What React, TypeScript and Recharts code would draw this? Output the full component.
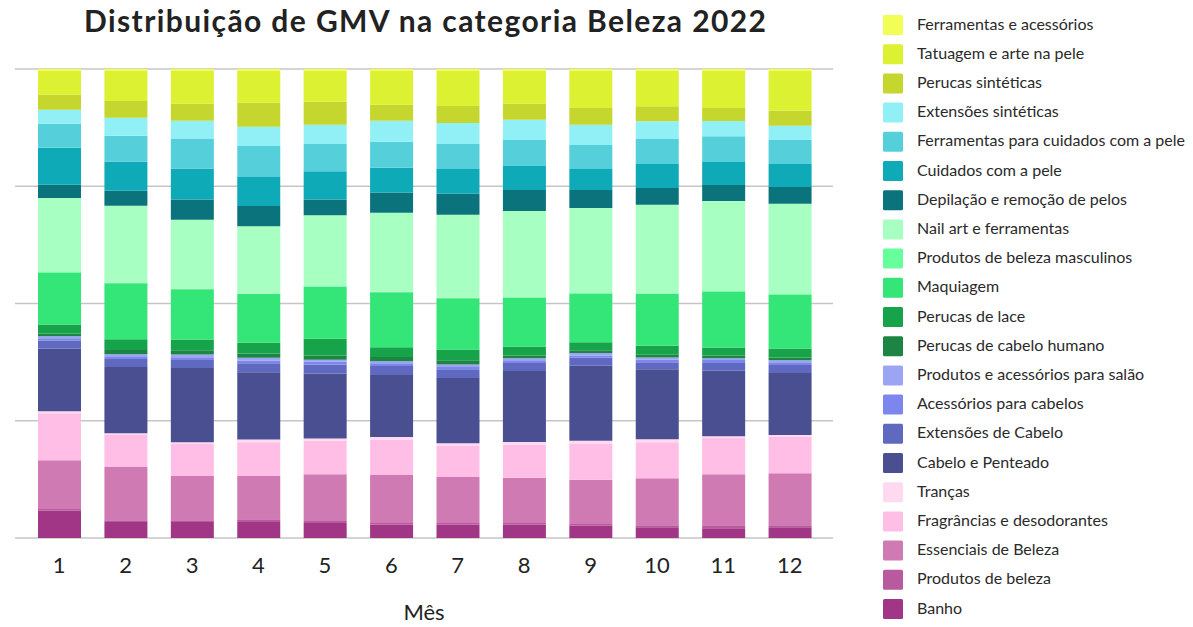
import React from 'react';
import { BarChart, Bar, XAxis, YAxis, CartesianGrid } from 'recharts';

// months on the x axis
const months = ['1', '2', '3', '4', '5', '6', '7', '8', '9', '10', '11', '12'];

// share of GMV per subcategory (%), month 1..12
const banho = [5.8, 3.4, 3.4, 3.4, 3.2, 2.8, 2.8, 2.8, 2.6, 2.3, 2.1, 2.3];
const produtosBeleza = [0.4, 0.4, 0.4, 0.6, 0.4, 0.4, 0.4, 0.4, 0.4, 0.4, 0.6, 0.4];
const essenciais = [10.4, 11.3, 9.4, 9.2, 10.0, 10.2, 9.8, 9.6, 9.4, 10.0, 10.9, 11.1];
const fragrancias = [10.0, 6.8, 6.8, 7.2, 7.2, 7.5, 6.6, 7.0, 7.7, 7.7, 7.7, 7.7];
const trancas = [0.4, 0.4, 0.4, 0.6, 0.4, 0.6, 0.6, 0.6, 0.6, 0.6, 0.4, 0.4];
const cabeloPenteado = [13.4, 14.1, 15.8, 14.3, 13.9, 13.2, 13.9, 15.1, 16.0, 14.9, 13.9, 13.2];
const extensoesCabelo = [1.7, 1.7, 1.7, 1.9, 1.9, 1.9, 1.9, 1.7, 1.7, 1.5, 1.7, 1.7];
const acessoriosCabelo = [0.5, 0.6, 0.6, 0.6, 0.6, 0.6, 0.6, 0.6, 0.4, 0.6, 0.6, 0.6];
const salao = [0.4, 0.4, 0.6, 0.6, 0.4, 0.4, 0.4, 0.4, 0.6, 0.4, 0.4, 0.4];
const perucasHumano = [0.6, 0.9, 0.9, 0.9, 0.9, 0.9, 0.9, 0.6, 0.6, 0.6, 0.6, 0.6];
const perucasLace = [1.9, 2.3, 2.3, 2.3, 3.6, 2.1, 2.3, 1.9, 1.7, 1.9, 1.7, 1.9];
const maquiagem = [11.1, 11.9, 10.7, 10.4, 11.1, 11.7, 10.9, 10.4, 10.4, 11.1, 11.9, 11.5];
const masculinos = [0.1, 0.1, 0.1, 0.1, 0.1, 0.1, 0.1, 0.1, 0.1, 0.1, 0.1, 0.1];
const nailArt = [15.8, 16.4, 14.7, 14.3, 15.1, 16.8, 17.7, 18.3, 18.1, 18.8, 19.2, 19.2];
const depilacao = [2.8, 3.2, 4.3, 4.3, 3.4, 4.3, 4.5, 4.5, 3.8, 3.6, 3.4, 3.6];
const cuidadosPele = [7.9, 6.2, 6.6, 6.2, 6.0, 5.3, 5.3, 5.1, 4.5, 5.1, 4.9, 4.9];
const ferramentasPele = [5.1, 5.5, 6.4, 6.6, 5.8, 5.5, 5.3, 5.5, 5.1, 5.3, 5.5, 5.1];
const extensoesSinteticas = [3.0, 3.8, 3.8, 4.1, 4.1, 4.5, 4.5, 4.3, 4.3, 3.8, 3.2, 3.0];
const perucasSinteticas = [3.2, 3.6, 3.6, 5.1, 4.9, 3.4, 3.6, 3.4, 3.6, 3.2, 2.8, 3.2];
const tatuagem = [5.1, 6.4, 7.0, 6.8, 6.6, 7.2, 7.5, 7.0, 7.9, 7.5, 7.9, 8.5];
const ferramentasAcessorios = [0.4, 0.4, 0.4, 0.4, 0.4, 0.4, 0.4, 0.4, 0.4, 0.4, 0.4, 0.4];

// stack order, bottom first
const series = [
  { key: 'banho', name: 'Banho', color: '#a13686', values: banho },
  { key: 'produtosBeleza', name: 'Produtos de beleza', color: '#b95a9e', values: produtosBeleza },
  { key: 'essenciais', name: 'Essenciais de Beleza', color: '#d07ab4', values: essenciais },
  { key: 'fragrancias', name: 'Fragrâncias e desodorantes', color: '#febee6', values: fragrancias },
  { key: 'trancas', name: 'Tranças', color: '#ffd9f0', values: trancas },
  { key: 'cabeloPenteado', name: 'Cabelo e Penteado', color: '#4a4f91', values: cabeloPenteado },
  { key: 'extensoesCabelo', name: 'Extensões de Cabelo', color: '#5f69c0', values: extensoesCabelo },
  { key: 'acessoriosCabelo', name: 'Acessórios para cabelos', color: '#7c86ee', values: acessoriosCabelo },
  { key: 'salao', name: 'Produtos e acessórios para salão', color: '#9ba5f3', values: salao },
  { key: 'perucasHumano', name: 'Perucas de cabelo humano', color: '#1c8544', values: perucasHumano },
  { key: 'perucasLace', name: 'Perucas de lace', color: '#16a34a', values: perucasLace },
  { key: 'maquiagem', name: 'Maquiagem', color: '#34e577', values: maquiagem },
  { key: 'masculinos', name: 'Produtos de beleza masculinos', color: '#66ff9c', values: masculinos },
  { key: 'nailArt', name: 'Nail art e ferramentas', color: '#a8ffc2', values: nailArt },
  { key: 'depilacao', name: 'Depilação e remoção de pelos', color: '#0b737b', values: depilacao },
  { key: 'cuidadosPele', name: 'Cuidados com a pele', color: '#0faab7', values: cuidadosPele },
  { key: 'ferramentasPele', name: 'Ferramentas para cuidados com a pele', color: '#55d0db', values: ferramentasPele },
  { key: 'extensoesSinteticas', name: 'Extensões sintéticas', color: '#91f0f6', values: extensoesSinteticas },
  { key: 'perucasSinteticas', name: 'Perucas sintéticas', color: '#c5d62e', values: perucasSinteticas },
  { key: 'tatuagem', name: 'Tatuagem e arte na pele', color: '#dbf132', values: tatuagem },
  { key: 'ferramentasAcessorios', name: 'Ferramentas e acessórios', color: '#f2fd55', values: ferramentasAcessorios },
];

const data = months.map((m, i) => {
  const row: Record<string, any> = { month: m };
  series.forEach((s) => {
    row[s.key] = s.values[i];
  });
  return row;
});

const FONT = 'Lato, "Noto Sans", sans-serif';

export default function App() {
  const legendItems = [...series].reverse();

  return (
    <div style={{ position: 'absolute', left: 0, top: 0, width: 1193, height: 627, background: '#fff', fontFamily: FONT }}>
      <BarChart
        width={1193}
        height={627}
        data={data}
        stackOffset="expand"
        margin={{ top: 69, right: 360, bottom: 0, left: 15 }}
      >
        <CartesianGrid vertical={false} stroke="#c6c6c6" strokeWidth={1.5} />
        <XAxis
          dataKey="month"
          height={89}
          axisLine={false}
          tickLine={false}
          tickMargin={13}
          padding={{ left: 11, right: 10 }}
          tick={{ fill: '#222', fontSize: 22, fontFamily: FONT }}
          label={{ value: 'Mês', position: 'insideBottom', offset: 7, fill: '#222', fontSize: 22, fontFamily: FONT }}
        />
        <YAxis hide domain={[0, 1]} ticks={[0, 0.25, 0.5, 0.75, 1]} />
        {series.map((s) => (
          <Bar
            key={s.key}
            dataKey={s.key}
            name={s.name}
            stackId="gmv"
            fill={s.color}
            barSize={43}
            isAnimationActive={false}
          />
        ))}
      </BarChart>

      <svg width={1193} height={627} style={{ position: 'absolute', left: 0, top: 0, pointerEvents: 'none' }}>
        <text
          x={84}
          y={32}
          textLength={682}
          lengthAdjust="spacing"
          fontSize={30}
          fontWeight={700}
          fill="#222"
          fontFamily={FONT}
        >
          Distribuição de GMV na categoria Beleza 2022
        </text>
        {legendItems.map((s, i) => (
          <g key={s.key} transform={`translate(883, ${15 + i * 29.2})`}>
            <rect width={20} height={20} rx={1.5} fill={s.color} />
            <text x={34} y={14.5} fontSize={16} fill="#2a2a2a" fontFamily={FONT}>
              {s.name}
            </text>
          </g>
        ))}
      </svg>
    </div>
  );
}
